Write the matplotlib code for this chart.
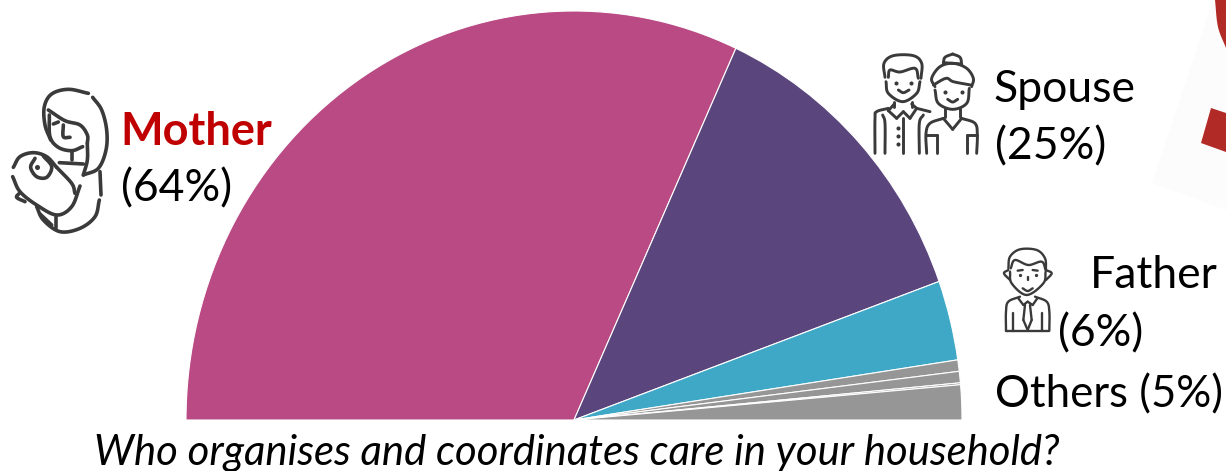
import matplotlib
matplotlib.use("Agg")
import matplotlib.pyplot as plt
from matplotlib.patches import Polygon
import numpy as np

plt.rcParams["font.family"] = ["Lato", "DejaVu Sans"]

W, H = 1226, 471

labels = ["Mother", "Spouse", "Father", "Others a", "Others b", "Others c", "Others d"]
values = [63.7, 25.3, 6.3, 0.9, 0.9, 0.15, 2.75]
colors = ["#B94A84", "#5A457C", "#3FA8C6", "#969696", "#969696", "#969696", "#969696"]

ICON = "#3A3A3A"


def smooth(pts, n=12):
    # catmull-rom through the given points
    p = np.array(pts, dtype=float)
    if len(p) < 3:
        return p
    p = np.vstack([2 * p[0] - p[1], p, 2 * p[-1] - p[-2]])
    out = []
    for i in range(1, len(p) - 2):
        for t in np.linspace(0, 1, n, endpoint=False):
            out.append(0.5 * (2 * p[i] + (p[i + 1] - p[i - 1]) * t
                              + (2 * p[i - 1] - 5 * p[i] + 4 * p[i + 1] - p[i + 2]) * t ** 2
                              + (3 * p[i] - p[i - 1] - 3 * p[i + 1] + p[i + 2]) * t ** 3))
    out.append(p[-2])
    return np.array(out)


def icon(ax, strokes, dots, ox, oy, lw):
    for s in strokes:
        xy = smooth(s)
        ax.plot(ox + xy[:, 0] / 3, oy + xy[:, 1] / 3, color=ICON, lw=lw,
                solid_capstyle="round", solid_joinstyle="round")
    for x, y in dots:
        ax.plot(ox + x / 3, oy + y / 3, "o", color=ICON, ms=lw * 1.4, mew=0)


mother_strokes = [
    [(265, 100), (205, 88), (155, 102), (133, 140), (135, 195), (152, 240)],
    [(145, 150), (195, 182), (240, 195), (262, 225), (262, 250)],
    [(148, 165), (150, 230), (175, 262), (215, 272), (248, 260)],
    [(278, 112), (305, 150), (320, 210), (318, 270), (295, 325), (250, 345)],
    [(262, 250), (262, 300), (250, 345)],
    [(160, 192), (175, 186)],
    [(190, 195), (190, 230), (210, 232)],
    [(215, 275), (215, 300)],
    [(178, 308), (250, 312)],
    [(40, 322), (60, 290), (100, 278), (140, 290), (170, 322)],
    [(130, 288), (155, 320), (140, 352), (110, 350), (92, 322), (105, 295)],
    [(38, 350), (60, 395), (110, 435), (170, 465), (215, 440), (240, 378)],
    [(170, 322), (215, 370), (225, 400)],
    [(110, 440), (130, 480), (180, 515), (240, 505), (285, 470), (298, 420)],
    [(300, 335), (303, 405)],
    [(168, 470), (168, 505)],
    [(120, 462), (155, 495)],
    [(60, 398), (50, 412), (75, 425)],
]
mother_dots = [(112, 320)]

spouse_strokes = [
    [(75, 112), (72, 70), (100, 47), (160, 47), (185, 70), (183, 115)],
    [(85, 112), (90, 90), (120, 96), (165, 85), (175, 115)],
    [(78, 125), (85, 160), (128, 185), (170, 160), (180, 125)],
    [(115, 150), (130, 158), (147, 150)],
    [(103, 185), (103, 200)], [(155, 185), (155, 200)],
    [(103, 192), (85, 212)], [(85, 212), (110, 235)], [(110, 235), (130, 215)],
    [(130, 215), (150, 235)], [(150, 235), (170, 205)], [(170, 205), (155, 192)],
    [(85, 205), (50, 215), (45, 235), (45, 340)],
    [(170, 205), (210, 215)],
    [(68, 225), (75, 250), (75, 340)],
    [(130, 235), (130, 340)],
    [(178, 340), (178, 250), (190, 225)],
    [(278, 42), (255, 52), (250, 70)], [(278, 42), (300, 52), (305, 72)],
    [(250, 68), (305, 72)],
    [(225, 140), (215, 115), (240, 80), (280, 70), (320, 85), (340, 115), (335, 140)],
    [(220, 135), (258, 115), (280, 125), (332, 135)],
    [(225, 150), (235, 190), (278, 208), (320, 190), (328, 145)],
    [(263, 178), (278, 186), (293, 178)],
    [(255, 205), (255, 232)], [(300, 205), (300, 232)],
    [(250, 235), (278, 268)], [(278, 268), (305, 235)],
    [(250, 235), (210, 250), (198, 280), (200, 340)],
    [(305, 235), (345, 250), (352, 285), (350, 340)],
    [(198, 285), (230, 285)], [(230, 285), (230, 340)],
    [(322, 285), (352, 285)], [(322, 285), (322, 340)],
]
spouse_dots = [(108, 128), (152, 128), (255, 155), (305, 155),
               (113, 265), (113, 288), (113, 312)]

father_strokes = [
    [(385, 85), (390, 50), (420, 28), (470, 30), (495, 55), (498, 90)],
    [(392, 85), (405, 60), (445, 75), (485, 65), (497, 90)],
    [(390, 95), (395, 130), (440, 165), (490, 130), (497, 95)],
    [(385, 90), (372, 100), (390, 120)],
    [(498, 90), (515, 100), (498, 120)],
    [(413, 92), (428, 90)], [(458, 90), (473, 92)],
    [(443, 110), (443, 120)],
    [(428, 145), (443, 153), (458, 145)],
    [(420, 170), (385, 185), (378, 215), (378, 272)],
    [(465, 170), (500, 185), (508, 215), (508, 272)],
    [(378, 272), (508, 272)],
    [(415, 175), (430, 195)], [(430, 195), (443, 185)],
    [(443, 185), (458, 195)], [(458, 195), (472, 175)],
    [(435, 195), (430, 240)], [(430, 240), (443, 270)],
    [(443, 270), (455, 240)], [(455, 240), (450, 195)],
    [(400, 220), (400, 272)], [(485, 220), (485, 272)],
]
father_dots = [(420, 104), (468, 104)]

fig = plt.figure(figsize=(W / 100, H / 100), dpi=100)

# half pie, the other half is an invisible slice
cx, cy, rx, ry = 574, 420, 388, 409
ax = fig.add_axes([(cx - rx) / W, (H - cy) / H, 2 * rx / W, ry / H])
wedges, _ = ax.pie(values + [sum(values)], colors=colors + ["white"], startangle=180,
                   counterclock=False, radius=1,
                   wedgeprops={"edgecolor": "white", "linewidth": 0.8})
wedges[-1].set_visible(False)
ax.set_aspect("auto")
ax.set_xlim(-1, 1)
ax.set_ylim(0, 1)
ax.axis("off")

# overlay in pixel coordinates for text and icons
ov = fig.add_axes([0, 0, 1, 1], zorder=5)
ov.set_xlim(0, W)
ov.set_ylim(H, 0)
ov.axis("off")
ov.patch.set_alpha(0)

# bit of the neighbouring slide graphic at the right edge
ov.add_patch(Polygon([(1152, 183), (1213, 0), (1226, 0), (1226, 210)], color="#FCFCFC", lw=0))
ov.add_patch(Polygon([(1211, 108), (1226, 113), (1226, 152), (1201, 143)], color="#B22A26", lw=0))
top = smooth([(1215, 0), (1218, 27), (1226, 48)])
ov.fill(np.r_[top[:, 0], 1226], np.r_[top[:, 1], 0], color="#B22A26", lw=0)

icon(ov, mother_strokes, mother_dots, 0, 60, 2.6)
icon(ov, spouse_strokes, spouse_dots, 860, 40, 2.1)
icon(ov, father_strokes, father_dots, 880, 240, 1.7)

FS = 32
ov.text(120, 132, "Mother", color="#C00000", fontsize=32.5, fontweight="bold", va="center")
ov.text(121, 189, "(64%)", color="black", fontsize=FS, va="center")
ov.text(993, 89, "Spouse", color="black", fontsize=FS, va="center")
ov.text(995, 147, "(25%)", color="black", fontsize=FS, va="center")
ov.text(1090, 275, "Father", color="black", fontsize=FS, va="center")
ov.text(1058, 334, "(6%)", color="black", fontsize=FS, va="center")
ov.text(995, 395, "Others (5%)", color="black", fontsize=31.5, va="center")
ov.text(94, 453, "Who organises and coordinates care in your household?", color="black",
        fontsize=30.2, style="italic", va="center")

fig.savefig("out.png", dpi=100)
